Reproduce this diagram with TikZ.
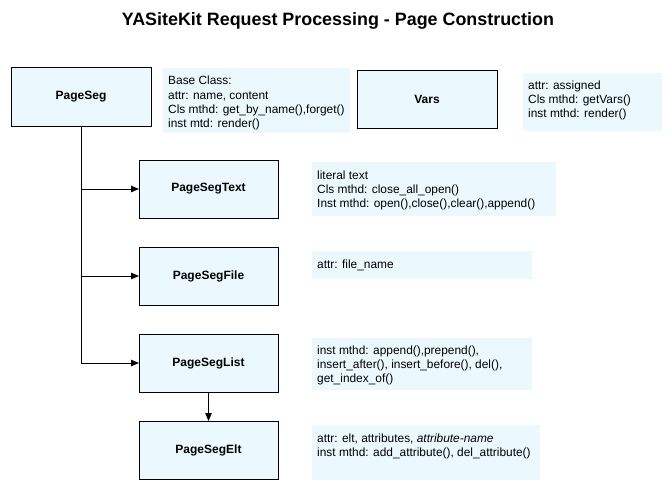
\documentclass[tikz,border=0pt]{standalone}
\usepackage{fontspec}
\setmainfont{Liberation Sans}
\usetikzlibrary{arrows.meta}
\definecolor{notefill}{HTML}{EBF9FE}
\tikzset{
  cls/.style={draw=black, line width=1pt, fill=notefill, inner sep=0pt},
  clslabel/.style={font=\fontsize{12}{14}\selectfont\bfseries},
  note/.style={fill=notefill, draw=none},
  notetext/.style={anchor=north west, inner sep=0pt, align=left, font=\fontsize{11.9}{14.2}\selectfont},
  conn/.style={line width=0.9pt, draw=black},
  arr/.style={conn, -{Triangle[length=8pt,width=6.5pt]}},
}
\begin{document}
\begin{tikzpicture}[x=1pt,y=-1pt]
\useasboundingbox (0,0) rectangle (671,492);
% title
\node[font=\fontsize{17.9}{20}\selectfont\bfseries] (title) at (338,20.5) {YASiteKit Request Processing - Page Construction};
% class boxes
\path[cls] (11,68) rectangle (151,126);
\node[clslabel] (PageSeg) at (81,97) {PageSeg};
\coordinate (PageSegS) at (81,126);
\path[cls] (357,71) rectangle (497,128);
\node[clslabel] (Vars) at (427,99.5) {Vars};
\path[cls] (139,160) rectangle (278,218);
\node[clslabel] (PageSegText) at (208.5,189) {PageSegText};
\coordinate (PageSegTextW) at (139,189);
\path[cls] (139,247) rectangle (278,305);
\node[clslabel] (PageSegFile) at (208.5,276) {PageSegFile};
\coordinate (PageSegFileW) at (139,276);
\path[cls] (139,334) rectangle (278,392);
\node[clslabel] (PageSegList) at (208.5,363) {PageSegList};
\coordinate (PageSegListW) at (139,363);
\coordinate (PageSegListS) at (208.5,392);
\path[cls] (139,421) rectangle (278,479);
\node[clslabel] (PageSegElt) at (208.5,450) {PageSegElt};
\coordinate (PageSegEltN) at (208.5,421);
% notes
\path[note] (163,68) rectangle (350,133);
\node[notetext] (n1) at (168,76) {Base Class:\\attr: name, content\\Cls mthd: get\_by\_name(),forget()\\inst mtd: render()};
\path[note] (523,73) rectangle (662,131);
\node[notetext] (n2) at (528,80.5) {attr: assigned\\Cls mthd: getVars()\\inst mthd: render()};
\path[note] (312,162) rectangle (556,216);
\node[notetext] (n3) at (317,170.5) {literal text\\Cls mthd: close\_all\_open()\\Inst mthd: open(),close(),clear(),append()};
\path[note] (312,251) rectangle (532,279);
\node[notetext] (n4) at (317,259.5) {attr: file\_name};
\path[note] (312,338) rectangle (532,390);
\node[notetext] (n5) at (317,345.5) {inst mthd: append(),prepend(),\\insert\_after(), insert\_before(), del(),\\get\_index\_of()};
\path[note] (312,425) rectangle (540,480);
\node[notetext] (n6) at (317,433.5) {attr: elt, attributes, \textit{attribute-name}\\inst mthd: add\_attribute(), del\_attribute()};
% connectors
\draw[conn] (PageSegS) -- (PageSegS |- PageSegListW);
\draw[arr] (PageSegS |- PageSegTextW) -- (PageSegTextW);
\draw[arr] (PageSegS |- PageSegFileW) -- (PageSegFileW);
\draw[arr] (PageSegS |- PageSegListW) -- (PageSegListW);
\draw[arr] (PageSegListS) -- (PageSegEltN);
\end{tikzpicture}
\end{document}
